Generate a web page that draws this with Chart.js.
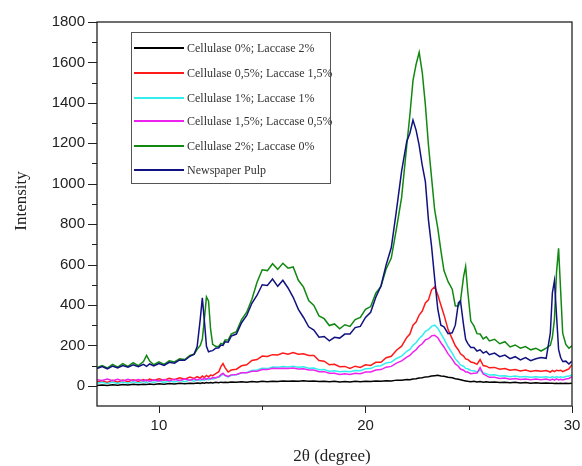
<!DOCTYPE html>
<html>
<head>
<meta charset="utf-8">
<script src="https://cdn.jsdelivr.net/npm/chart.js@4.4.1/dist/chart.umd.min.js"></script>
<style>
  body { margin: 0; background: #fff; }
  #wrap { position: relative; width: 582px; height: 466px; }
  #legend {
    position: absolute; left: 131px; top: 32px; width: 200px; height: 152px;
    border: 1px solid #555; box-sizing: border-box; background: #fff;
    font-family: "Liberation Serif", serif; font-size: 12px; color: #333;
  }
  .row { position: absolute; left: 2px; height: 14px; display: flex; align-items: center; white-space: nowrap; }
  .sw { width: 50px; height: 2px; margin-right: 3px; }
</style>
</head>
<body>
<div id="wrap">
  <canvas id="xrd" width="582" height="466"></canvas>
  <div id="legend"></div>
</div>
<script>
// 2theta positions (degree)
const twoTheta = [
  7, 7.25, 7.5, 7.75, 8, 8.25, 8.5, 8.75, 9, 9.25,
  9.4, 9.55, 9.75, 10, 10.25, 10.5, 10.75, 11, 11.25, 11.5,
  11.7, 11.85, 12.0, 12.1, 12.2, 12.3, 12.4, 12.5, 12.6, 12.75,
  12.9, 13.0, 13.1, 13.2, 13.35, 13.5, 13.75, 14, 14.25, 14.5,
  14.75, 15, 15.25, 15.5, 15.75, 16, 16.25, 16.5, 16.75, 17,
  17.25, 17.5, 17.75, 18, 18.25, 18.5, 18.75, 19, 19.25, 19.5,
  19.75, 20, 20.25, 20.5, 20.75, 21, 21.25, 21.5, 21.75, 22,
  22.15, 22.3, 22.45, 22.6, 22.75, 22.9, 23.05, 23.2, 23.35, 23.5,
  23.65, 23.8, 24, 24.2, 24.35, 24.5, 24.6, 24.75, 24.85, 24.95,
  25.1, 25.25, 25.4, 25.55, 25.7, 25.85, 26, 26.25, 26.5, 26.75,
  27, 27.25, 27.5, 27.75, 28, 28.25, 28.5, 28.75, 28.95, 29.05,
  29.15, 29.25, 29.35, 29.45, 29.55, 29.7, 29.85, 30
];

const cel0lac2 = [
  2, 4, 1, 5, 3, 6, 4, 7, 5, 8,
  6, 9, 7, 10, 8, 11, 9, 12, 10, 13,
  11, 14, 12, 15, 13, 16, 14, 16, 14, 17,
  15, 18, 16, 18, 16, 19, 17, 20, 18, 21,
  19, 22, 20, 23, 21, 24, 22, 24, 22, 25,
  22, 24, 21, 23, 20, 22, 19, 21, 19, 22,
  20, 23, 21, 24, 22, 25, 24, 28, 27, 31,
  30, 34, 35, 39, 40, 44, 45, 48, 50, 52,
  48, 47, 42, 40, 35, 32, 30, 26, 24, 22,
  20, 22, 19, 21, 18, 20, 17, 19, 16, 18,
  15, 17, 14, 16, 13, 15, 12, 14, 12, 13,
  11, 13, 11, 13, 11, 12, 11, 12
];

const cel05lac15 = [
  18, 25, 16, 27, 18, 28, 20, 30, 22, 31,
  24, 33, 26, 35, 28, 37, 30, 40, 33, 43,
  36, 45, 38, 48, 41, 51, 44, 53, 50, 60,
  70, 95, 110, 90, 68, 78, 82, 99, 104, 125,
  130, 147, 145, 154, 152, 162, 156, 164, 156, 158,
  150, 150, 125, 122, 104, 106, 94, 96, 86, 97,
  91, 104, 101, 116, 116, 139, 146, 176, 196, 239,
  256, 300, 315, 350, 370, 410, 425, 475, 490, 450,
  400, 352, 278, 232, 198, 177, 158, 147, 133, 130,
  118, 114, 106, 130, 100, 97, 89, 91, 82, 85,
  77, 81, 73, 78, 71, 75, 72, 76, 68, 76,
  70, 77, 75, 77, 70, 77, 84, 105
];

const cel1lac1 = [
  12, 17, 10, 18, 12, 19, 13, 20, 14, 21,
  15, 22, 16, 23, 17, 24, 19, 26, 20, 28,
  23, 30, 25, 32, 27, 34, 29, 36, 33, 40,
  42, 50, 58, 50, 44, 52, 54, 64, 66, 76,
  78, 87, 85, 93, 92, 95, 93, 97, 92, 94,
  87, 88, 79, 80, 72, 74, 69, 72, 69, 76,
  75, 84, 85, 97, 99, 113, 117, 135, 147, 171,
  180, 200, 213, 234, 248, 270, 278, 294, 300, 285,
  258, 232, 193, 162, 133, 117, 103, 97, 86, 84,
  76, 74, 68, 78, 63, 60, 53, 54, 48, 50,
  45, 48, 43, 46, 42, 45, 42, 45, 40, 45,
  40, 46, 41, 44, 41, 46, 48, 55
];

const cel15lac05 = [
  30, 26, 34, 25, 32, 24, 32, 25, 31, 24,
  30, 23, 30, 24, 31, 25, 32, 26, 33, 28,
  35, 29, 36, 30, 37, 32, 39, 34, 41, 40,
  45, 55, 62, 52, 46, 54, 56, 64, 64, 72,
  72, 80, 80, 87, 86, 87, 86, 88, 83, 84,
  78, 78, 70, 70, 62, 62, 56, 59, 56, 62,
  60, 68, 68, 78, 80, 92, 96, 112, 123, 142,
  150, 167, 178, 197, 208, 227, 233, 247, 250, 238,
  213, 192, 158, 132, 108, 97, 83, 77, 68, 68,
  60, 62, 63, 90, 58, 50, 42, 42, 36, 38,
  33, 36, 31, 34, 30, 33, 30, 33, 28, 33,
  28, 34, 29, 32, 29, 34, 36, 45
];

const cel2lac0 = [
  90, 100, 88, 106, 92, 110, 96, 114, 100, 120,
  150, 122, 104, 118, 106, 124, 118, 134, 130, 150,
  156, 180, 200, 230, 330, 440, 420, 280, 205, 195,
  196, 210, 206, 226, 226, 256, 268, 328, 364, 428,
  512, 574, 570, 604, 576, 606, 582, 588, 522, 488,
  422, 398, 346, 332, 298, 306, 282, 302, 294, 328,
  338, 378, 392, 458, 492, 578, 632, 778, 932, 1190,
  1340, 1510, 1590, 1650, 1550, 1390, 1190, 1030, 870, 780,
  670, 570, 515, 478, 395, 395, 420, 540, 590, 470,
  320, 296, 258, 256, 232, 242, 222, 230, 208, 218,
  192, 202, 186, 194, 178, 186, 172, 186, 200, 240,
  330, 560, 680, 470, 260, 205, 186, 198
];

const newspaperPulp = [
  85, 95, 84, 98, 88, 100, 92, 104, 94, 106,
  96, 108, 98, 110, 101, 116, 112, 128, 126, 146,
  156, 194, 330, 435, 320, 195, 168, 172, 174, 186,
  188, 202, 200, 218, 216, 246, 256, 312, 348, 408,
  448, 500, 496, 528, 492, 522, 484, 438, 378, 338,
  292, 276, 240, 244, 222, 240, 236, 256, 256, 288,
  294, 338, 364, 438, 494, 598, 684, 868, 1062, 1210,
  1250, 1315, 1265, 1190, 1090, 1010, 820, 690, 530, 380,
  300, 292, 258, 262, 300, 410, 420, 300, 230, 210,
  190, 190, 172, 178, 162, 170, 154, 162, 144, 152,
  134, 144, 128, 140, 124, 134, 140, 136, 260, 460,
  520, 350, 180, 140, 120, 122, 108, 122
];

const seriesNames = [
  'Cellulase 0%; Laccase 2%',
  'Cellulase 0,5%; Laccase 1,5%',
  'Cellulase 1%; Laccase 1%',
  'Cellulase 1,5%; Laccase 0,5%',
  'Cellulase 2%; Laccase 0%',
  'Newspaper Pulp'
];
const seriesValues = [cel0lac2, cel05lac15, cel1lac1, cel15lac05, cel2lac0, newspaperPulp];
const seriesColors = ['#000000', '#ff1a1a', '#33eeee', '#ee22ee', '#118811', '#111180'];

const yTickValues = [0, 200, 400, 600, 800, 1000, 1200, 1400, 1600, 1800];
const xTickValues = [10, 20, 30];

// frame, tick marks and axis titles
const framePlugin = {
  id: 'frame',
  afterDraw(chart) {
    const { ctx, chartArea: a, scales } = chart;
    ctx.save();
    ctx.strokeStyle = '#222';
    ctx.lineWidth = 1.3;
    ctx.strokeRect(a.left, a.top, a.right - a.left, a.bottom - a.top);
    ctx.lineWidth = 1;
    ctx.beginPath();
    for (let v = 0; v <= 1800; v += 100) {
      const y = Math.round(scales.y.getPixelForValue(v)) + 0.5;
      const len = v % 200 === 0 ? 9 : 5;
      ctx.moveTo(a.left - len, y);
      ctx.lineTo(a.left, y);
    }
    for (let v = 10; v <= 30; v += 5) {
      const x = Math.round(scales.x.getPixelForValue(v)) + 0.5;
      const len = v % 10 === 0 ? 7 : 4;
      ctx.moveTo(x, a.bottom);
      ctx.lineTo(x, a.bottom + len);
    }
    ctx.stroke();

    ctx.fillStyle = '#222';
    ctx.font = '17px "Liberation Serif", serif';
    ctx.textAlign = 'center';
    ctx.textBaseline = 'middle';
    ctx.fillText('2θ (degree)', 332, 457);
    ctx.translate(22, 201);
    ctx.rotate(-Math.PI / 2);
    ctx.fillText('Intensity', 0, 0);
    ctx.restore();
  }
};

const datasets = seriesValues.map((vals, i) => ({
  label: seriesNames[i],
  data: twoTheta.map((x, j) => ({ x: x, y: vals[j] })),
  borderColor: seriesColors[i],
  borderWidth: 1.5,
  pointRadius: 0,
  tension: 0,
  order: seriesValues.length - 1 - i
}));

new Chart(document.getElementById('xrd'), {
  type: 'line',
  data: { datasets },
  options: {
    responsive: false,
    animation: false,
    layout: { padding: { left: 0, top: 22, right: 10, bottom: 0 } },
    plugins: { legend: { display: false }, tooltip: { enabled: false } },
    scales: {
      x: {
        type: 'linear',
        min: 7,
        max: 30,
        grid: { display: false, drawTicks: false },
        border: { display: false },
        ticks: { padding: 11, color: '#222', font: { family: 'Liberation Sans', size: 15 }, callback: (v) => String(v) },
        afterBuildTicks: (s) => { s.ticks = xTickValues.map(v => ({ value: v })); },
        afterFit: (s) => { s.height = 60; s.paddingLeft = 0; s.paddingRight = 0; }
      },
      y: {
        min: -100,
        max: 1800,
        grid: { display: false, drawTicks: false },
        border: { display: false },
        ticks: { padding: 12, color: '#222', font: { family: 'Liberation Sans', size: 15 }, callback: (v) => String(v) },
        afterBuildTicks: (s) => { s.ticks = yTickValues.map(v => ({ value: v })); },
        afterFit: (s) => { s.width = 97; s.paddingTop = 0; s.paddingBottom = 0; }
      }
    }
  },
  plugins: [framePlugin]
});

// legend box drawn as html
const legend = document.getElementById('legend');
const rowTops = [8, 33, 58, 81, 106, 130];
seriesNames.forEach((name, i) => {
  const row = document.createElement('div');
  row.className = 'row';
  row.style.top = rowTops[i] + 'px';
  const sw = document.createElement('div');
  sw.className = 'sw';
  sw.style.background = seriesColors[i];
  const txt = document.createElement('span');
  txt.textContent = name;
  row.appendChild(sw);
  row.appendChild(txt);
  legend.appendChild(row);
});
</script>
</body>
</html>
